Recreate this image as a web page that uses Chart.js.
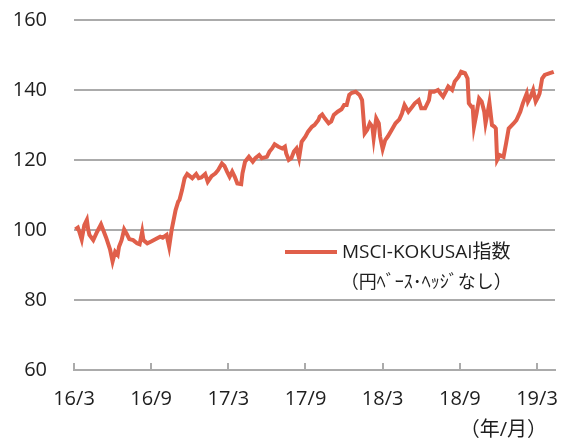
<!DOCTYPE html>
<html lang="ja">
<head>
    <meta charset="UTF-8">
    <title>MSCI-KOKUSAI指数</title>
    <script src="https://cdn.jsdelivr.net/npm/chart.js"></script>
    <style>
        body {
            margin: 0;
            background: #ffffff;
        }
        .chart-box {
            position: relative;
            width: 562px;
            height: 439px;
        }
    </style>
</head>
<body>

<div class="chart-box">
    <canvas id="indexChart"></canvas>
</div>

<script>
    // months counted from 2016/3
    const months = [
        0.1, 0.3, 0.4, 0.6, 0.8, 1.0, 1.1, 1.2, 1.5, 1.8, 2.1, 2.3, 2.5, 2.8, 3.0, 3.2, 3.4, 3.5, 3.7, 3.9,
        4.1, 4.3, 4.6, 4.9, 5.1, 5.3, 5.4, 5.7, 6.0, 6.4, 6.7, 6.9, 7.2, 7.4, 7.6, 7.9, 8.1, 8.2, 8.4, 8.6,
        8.8, 9.0, 9.2, 9.5, 9.7, 9.9, 10.2, 10.4, 10.7, 11.0, 11.2, 11.5, 11.7, 11.9, 12.1, 12.3, 12.5, 12.7, 13.0, 13.1,
        13.3, 13.6, 13.9, 14.1, 14.4, 14.6, 15.0, 15.2, 15.4, 15.6, 15.9, 16.2, 16.4, 16.5, 16.7, 16.9, 17.1, 17.3, 17.5, 17.7,
        18.0, 18.2, 18.5, 18.7, 19.0, 19.1, 19.3, 19.5, 19.8, 20.0, 20.2, 20.5, 20.8, 21.0, 21.2, 21.4, 21.6, 21.9, 22.2, 22.4,
        22.6, 22.8, 23.0, 23.2, 23.3, 23.5, 23.7, 23.8, 24.0, 24.2, 24.4, 24.7, 25.0, 25.3, 25.5, 25.7, 26.0, 26.3, 26.5, 26.8,
        27.0, 27.3, 27.6, 27.7, 28.0, 28.3, 28.5, 28.7, 28.9, 29.1, 29.4, 29.6, 29.9, 30.1, 30.4, 30.6, 30.7, 30.9, 31.0, 31.1,
        31.3, 31.5, 31.7, 31.9, 32.0, 32.2, 32.3, 32.5, 32.7, 32.8, 32.9, 33.1, 33.4, 33.6, 33.8, 34.2, 34.4, 34.7, 34.9, 35.2,
        35.3, 35.5, 35.7, 35.9, 36.1, 36.2, 36.4, 36.6, 37.0, 37.3
    ];
    const indexValues = [
        100.2, 100.7, 99.7, 97.3, 101.4, 102.9, 100.2, 98.6, 97.1, 99.5, 101.6, 99.7, 97.8, 94.5, 91.0, 93.8, 92.9, 95.2, 97.1, 100.2,
        98.9, 97.4, 97.1, 96.2, 95.9, 99.5, 97.1, 96.2, 96.7, 97.5, 98.1, 97.8, 98.6, 95.2, 100.2, 105.7, 108.1, 108.6, 111.4, 114.8,
        116.0, 115.4, 114.8, 116.0, 114.8, 115.0, 116.0, 113.8, 115.4, 116.2, 117.1, 119.0, 118.3, 116.7, 115.2, 116.7, 115.2, 113.3, 113.1, 116.2,
        119.5, 120.9, 119.5, 120.5, 121.4, 120.5, 120.9, 122.4, 123.3, 124.5, 123.8, 123.3, 123.8, 121.9, 120.0, 120.5, 122.4, 123.3, 120.5, 125.2,
        126.7, 128.1, 129.5, 130.0, 131.4, 132.4, 133.0, 131.9, 130.5, 131.0, 132.9, 133.8, 134.5, 135.7, 135.7, 138.6, 139.2, 139.5, 138.6, 137.1,
        127.6, 128.6, 130.5, 129.5, 126.2, 131.9, 130.5, 126.7, 123.1, 125.7, 126.7, 128.6, 130.5, 131.6, 133.3, 135.7, 133.8, 135.2, 136.2, 137.1,
        134.8, 134.8, 137.1, 139.5, 139.5, 140.0, 139.0, 138.1, 139.5, 141.0, 140.0, 142.4, 143.8, 145.2, 144.8, 143.3, 136.2, 135.2, 135.2, 129.5,
        133.3, 137.6, 136.7, 133.8, 130.5, 134.3, 136.4, 130.0, 129.5, 129.0, 120.0, 121.4, 120.9, 124.8, 129.0, 130.5, 131.4, 133.8, 136.2, 139.0,
        136.7, 138.1, 140.0, 136.7, 138.1, 139.0, 143.3, 144.3, 144.8, 145.2
    ];

    // x axis ticks (months from 2016/3) and their labels
    const tickMonths = [0, 6, 12, 18, 24, 30, 36];
    const tickLabels = ['16/3', '16/9', '17/3', '17/9', '18/3', '18/9', '19/3'];

    const seriesName = 'MSCI-KOKUSAI指数';
    const seriesNote = '（円ﾍﾞｰｽ･ﾍｯｼﾞなし）';
    const unitLabel = '（年/月）';

    const lineColor = '#e05f4a';
    const gridColor = '#ababab';
    const textColor = '#1e1e1e';
    const fontFamily = '"Open Sans", "Noto Sans CJK JP", sans-serif';

    // tick marks pointing up, the in-chart legend and the unit label
    const chartDecor = {
        id: 'chartDecor',
        afterDraw(chart) {
            const { ctx, chartArea, scales } = chart;
            ctx.save();

            ctx.strokeStyle = gridColor;
            ctx.lineWidth = 2;
            tickMonths.forEach(m => {
                const x = Math.round(scales.x.getPixelForValue(m));
                ctx.beginPath();
                ctx.moveTo(x, chartArea.bottom);
                ctx.lineTo(x, chartArea.bottom - 7);
                ctx.stroke();
            });

            // legend
            const ds = chart.data.datasets[0];
            const lx = chartArea.left + 211;
            const ly = chartArea.top + 232;
            ctx.strokeStyle = ds.borderColor;
            ctx.lineWidth = 4;
            ctx.beginPath();
            ctx.moveTo(lx, ly);
            ctx.lineTo(lx + 52, ly);
            ctx.stroke();

            ctx.fillStyle = textColor;
            ctx.font = '19px ' + fontFamily;
            ctx.textBaseline = 'middle';
            ctx.textAlign = 'left';
            ctx.fillText(ds.label, lx + 57, ly + 1);
            const w = ctx.measureText(ds.label).width;
            ctx.font = '18px ' + fontFamily;
            ctx.textAlign = 'center';
            ctx.fillText(seriesNote, lx + 57 + w / 2, ly + 31);

            // unit label under the last tick
            ctx.font = '20px ' + fontFamily;
            ctx.textAlign = 'right';
            ctx.fillText(unitLabel, chartArea.right - 8, chartArea.bottom + 60);

            ctx.restore();
        }
    };

    const ctx = document.getElementById('indexChart').getContext('2d');
    const indexChart = new Chart(ctx, {
        type: 'line',
        data: {
            datasets: [{
                label: seriesName,
                data: months.map((m, i) => ({ x: m, y: indexValues[i] })),
                borderColor: lineColor,
                borderWidth: 4,
                pointRadius: 0,
                tension: 0,
                fill: false
            }]
        },
        options: {
            responsive: true,
            maintainAspectRatio: false,
            animation: false,
            layout: {
                padding: { top: 20, right: 7, bottom: 0, left: 0 }
            },
            plugins: {
                legend: { display: false },
                tooltip: { enabled: false }
            },
            scales: {
                x: {
                    type: 'linear',
                    min: 0,
                    max: 37.4,
                    afterBuildTicks: scale => {
                        scale.ticks = tickMonths.map(v => ({ value: v }));
                    },
                    afterFit: scale => {
                        scale.height = 69;
                        scale.paddingLeft = 0;
                        scale.paddingRight = 0;
                    },
                    grid: { drawOnChartArea: false, drawTicks: false },
                    border: { display: true, color: gridColor, width: 2 },
                    ticks: {
                        padding: 17,
                        maxRotation: 0,
                        color: textColor,
                        font: { family: fontFamily, size: 20 },
                        callback: value => tickLabels[tickMonths.indexOf(value)]
                    }
                },
                y: {
                    min: 60,
                    max: 160,
                    afterFit: scale => {
                        scale.width = 74;
                        scale.paddingTop = 0;
                        scale.paddingBottom = 0;
                    },
                    grid: { color: gridColor, lineWidth: 2, drawTicks: false },
                    border: { display: false },
                    ticks: {
                        stepSize: 20,
                        padding: 27,
                        color: textColor,
                        font: { family: fontFamily, size: 20 }
                    }
                }
            }
        },
        plugins: [chartDecor]
    });
</script>

</body>
</html>
